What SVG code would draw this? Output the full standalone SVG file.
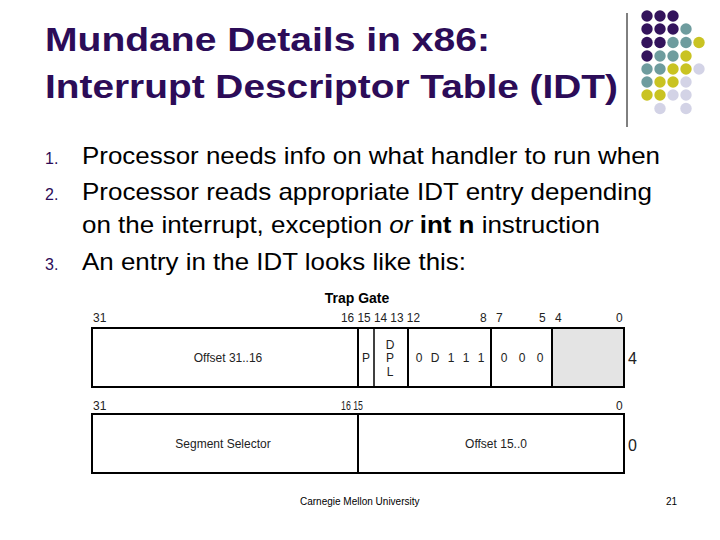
<svg xmlns="http://www.w3.org/2000/svg" width="720" height="540" viewBox="0 0 720 540">
<style>
.title{font-family:"Liberation Sans",Arial,sans-serif;font-weight:bold;font-size:34px;fill:#2c0c58}
.body{font-family:"Liberation Sans",Arial,sans-serif;font-size:24px;fill:#000}
.num{font-family:"Liberation Sans",Arial,sans-serif;font-size:16px;fill:#2c0c58}
.lbl{font-family:"Liberation Sans",Arial,sans-serif;font-size:12px;fill:#222}
.big{font-family:"Liberation Sans",Arial,sans-serif;font-size:16px;fill:#222}
.box{fill:none;stroke:#000;stroke-width:2}
.foot{font-family:"Liberation Sans",Arial,sans-serif;font-size:10px;fill:#000}
.p{fill:#33135c}.t{fill:#6e9c9e}.y{fill:#c9c322}.l{fill:#d3d3e6}
</style>
<rect width="720" height="540" fill="#fff"/>
<g id="title">
<text class="title" x="45" y="51" textLength="445" lengthAdjust="spacingAndGlyphs">Mundane Details in x86:</text>
<text class="title" x="45" y="98" textLength="573" lengthAdjust="spacingAndGlyphs">Interrupt Descriptor Table (IDT)</text>
</g>
<g id="decor">
<line x1="627" y1="13" x2="627" y2="127" stroke="#000" stroke-width="1"/>
<circle class="p" cx="647" cy="16" r="5.7"/><circle class="p" cx="660" cy="16" r="5.7"/><circle class="p" cx="673" cy="16" r="5.7"/>
<circle class="p" cx="647" cy="29" r="5.7"/><circle class="p" cx="660" cy="29" r="5.7"/><circle class="p" cx="673" cy="29" r="5.7"/><circle class="t" cx="686" cy="29" r="5.7"/>
<circle class="p" cx="647" cy="42.5" r="5.7"/><circle class="p" cx="660" cy="42.5" r="5.7"/><circle class="t" cx="673" cy="42.5" r="5.7"/><circle class="t" cx="686" cy="42.5" r="5.7"/><circle class="y" cx="699" cy="42.5" r="5.7"/>
<circle class="p" cx="647" cy="56" r="5.7"/><circle class="t" cx="660" cy="56" r="5.7"/><circle class="t" cx="673" cy="56" r="5.7"/><circle class="y" cx="686" cy="56" r="5.7"/>
<circle class="t" cx="647" cy="69" r="5.7"/><circle class="t" cx="660" cy="69" r="5.7"/><circle class="y" cx="673" cy="69" r="5.7"/><circle class="y" cx="686" cy="69" r="5.7"/><circle class="l" cx="699" cy="69" r="5.7"/>
<circle class="t" cx="647" cy="82" r="5.7"/><circle class="y" cx="660" cy="82" r="5.7"/><circle class="y" cx="673" cy="82" r="5.7"/><circle class="l" cx="686" cy="82" r="5.7"/>
<circle class="y" cx="647" cy="95" r="5.7"/><circle class="y" cx="660" cy="95" r="5.7"/><circle class="l" cx="673" cy="95" r="5.7"/><circle class="l" cx="686" cy="95" r="5.7"/>
<circle class="l" cx="660" cy="108.5" r="5.7"/><circle class="l" cx="686" cy="108.5" r="5.7"/>
</g>
<g id="bullets">
<text class="num" x="45" y="164">1.</text>
<text class="body" x="82" y="164" textLength="578" lengthAdjust="spacingAndGlyphs">Processor needs info on what handler to run when</text>
<text class="num" x="45" y="200">2.</text>
<text class="body" x="82" y="200" textLength="570" lengthAdjust="spacingAndGlyphs">Processor reads appropriate IDT entry depending</text>
<text class="body" x="82" y="233" textLength="518" lengthAdjust="spacingAndGlyphs">on the interrupt, exception <tspan font-style="italic">or</tspan> <tspan font-weight="bold">int n</tspan> instruction</text>
<text class="num" x="45" y="270">3.</text>
<text class="body" x="82" y="270" textLength="384" lengthAdjust="spacingAndGlyphs">An entry in the IDT looks like this:</text>
</g>
<g id="trap-gate">
<text x="357" y="303" text-anchor="middle" font-family="Liberation Sans,Arial,sans-serif" font-weight="bold" font-size="14" fill="#000">Trap Gate</text>
<g id="bits-top">
<text class="lbl" x="93" y="322">31</text>
<text class="lbl" x="341" y="322" textLength="79" lengthAdjust="spacingAndGlyphs">16 15 14 13 12</text>
<text class="lbl" x="480" y="322">8</text>
<text class="lbl" x="496" y="322">7</text>
<text class="lbl" x="539" y="322">5</text>
<text class="lbl" x="555" y="322">4</text>
<text class="lbl" x="616" y="322">0</text>
</g>
<g id="word-high">
<rect x="552" y="328" width="72" height="59" fill="#e4e4e4"/>
<rect class="box" x="92" y="328" width="532" height="59"/>
<line x1="358" y1="328" x2="358" y2="387" stroke="#000" stroke-width="2"/>
<line x1="374" y1="328" x2="374" y2="387" stroke="#000" stroke-width="1.5"/>
<line x1="408" y1="328" x2="408" y2="387" stroke="#000" stroke-width="2"/>
<line x1="491" y1="328" x2="491" y2="387" stroke="#000" stroke-width="2"/>
<line x1="552" y1="328" x2="552" y2="387" stroke="#000" stroke-width="2"/>
<text class="lbl" x="228" y="362" text-anchor="middle">Offset 31..16</text>
<text class="lbl" x="366" y="362" text-anchor="middle">P</text>
<text class="lbl" x="390" y="349" text-anchor="middle">D</text>
<text class="lbl" x="390" y="362" text-anchor="middle">P</text>
<text class="lbl" x="390" y="376" text-anchor="middle">L</text>
<text class="lbl" x="419" y="362" text-anchor="middle" font-size="9">0</text>
<text class="lbl" x="435" y="362" text-anchor="middle">D</text>
<text class="lbl" x="451" y="362" text-anchor="middle">1</text>
<text class="lbl" x="466" y="362" text-anchor="middle">1</text>
<text class="lbl" x="481" y="362" text-anchor="middle">1</text>
<text class="lbl" x="504" y="362" text-anchor="middle">0</text>
<text class="lbl" x="522" y="362" text-anchor="middle">0</text>
<text class="lbl" x="540" y="362" text-anchor="middle">0</text>
<text class="big" x="628" y="364">4</text>
</g>
<g id="bits-bottom">
<text class="lbl" x="93" y="410">31</text>
<text class="lbl" x="341" y="410" textLength="22" lengthAdjust="spacingAndGlyphs">16 15</text>
<text class="lbl" x="616" y="410">0</text>
</g>
<g id="word-low">
<rect class="box" x="92" y="414" width="532" height="59"/>
<line x1="358" y1="414" x2="358" y2="473" stroke="#000" stroke-width="2"/>
<text class="lbl" x="223" y="448" text-anchor="middle">Segment Selector</text>
<text class="lbl" x="496" y="448" text-anchor="middle">Offset 15..0</text>
<text class="big" x="628" y="451">0</text>
</g>
</g>
<g id="footer">
<text class="foot" x="300" y="505">Carnegie Mellon University</text>
<text class="foot" x="666" y="505">21</text>
</g>
</svg>
